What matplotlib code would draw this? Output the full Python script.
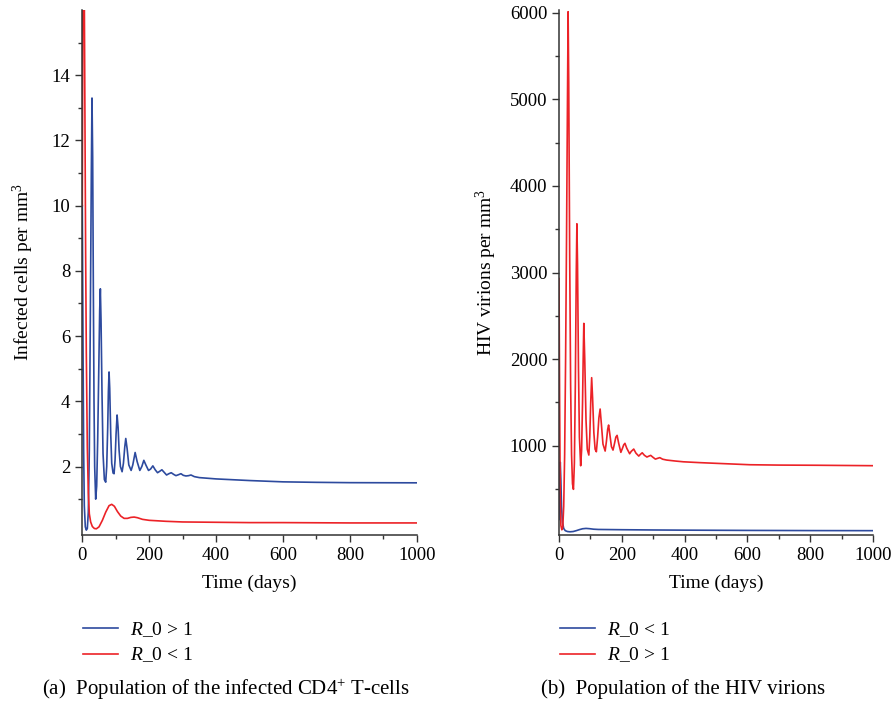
import matplotlib
matplotlib.use("Agg")
import matplotlib.pyplot as plt
from matplotlib.ticker import MultipleLocator, FixedLocator

plt.rcParams['font.family'] = ['Liberation Serif', 'DejaVu Serif']
plt.rcParams['mathtext.fontset'] = 'custom'
plt.rcParams['mathtext.rm'] = 'Liberation Serif'
plt.rcParams['mathtext.it'] = 'Liberation Serif:italic'

BLUE = '#2d4a9e'
RED = '#ec2227'

# (a) infected CD4+ T-cells, R_0 > 1 (blue)
t_cells_hi = [0, 2, 4, 6, 9, 12, 15, 18, 21, 24, 27, 29, 31, 33, 35, 37, 40, 43, 46, 49,
              52, 54, 56, 59, 62, 66, 70, 73, 76, 78, 80, 82, 85, 88, 92, 95, 98, 101, 104,
              107, 110, 114, 119, 123, 127, 130, 134, 139, 146, 151, 158, 164, 172, 178,
              184, 190, 198, 204, 211, 218, 225, 231, 238, 245, 252, 259, 266, 273, 280,
              288, 295, 302, 310, 318, 325, 335, 350, 400, 500, 600, 700, 800, 1000]
cells_hi = [10.0, 6.0, 2.5, 0.8, 0.15, 0.05, 0.1, 0.6, 2.5, 6.5, 11.0, 13.3, 11.5, 7.5, 4.0,
            2.0, 1.0, 1.4, 2.8, 4.8, 6.8, 7.45, 6.5, 4.2, 2.4, 1.6, 1.52, 2.0, 3.2, 4.3, 4.9,
            4.4, 3.0, 2.1, 1.8, 1.78, 2.2, 3.0, 3.58, 3.2, 2.5, 2.0, 1.84, 2.1, 2.6, 2.86,
            2.55, 2.05, 1.88, 2.05, 2.43, 2.15, 1.88, 2.0, 2.19, 2.05, 1.88, 1.92, 2.02, 1.9,
            1.81, 1.85, 1.9, 1.82, 1.74, 1.78, 1.81, 1.76, 1.72, 1.75, 1.78, 1.73, 1.71,
            1.72, 1.74, 1.69, 1.66, 1.62, 1.57, 1.53, 1.515, 1.505, 1.5]

# (a) infected CD4+ T-cells, R_0 < 1 (red)
t_cells_lo = [0, 2, 4, 6, 8, 10, 12, 15, 18, 21, 25, 30, 36, 42, 50, 60, 70, 80, 88, 96,
              105, 115, 125, 135, 145, 155, 165, 180, 200, 250, 300, 400, 500, 600, 800, 1000]
cells_lo = [10.0, 17.0, 19.0, 16.5, 12.5, 8.5, 5.5, 2.6, 1.2, 0.55, 0.3, 0.16, 0.1, 0.09,
            0.15, 0.35, 0.6, 0.8, 0.84, 0.78, 0.62, 0.48, 0.41, 0.41, 0.44, 0.45, 0.43,
            0.38, 0.35, 0.32, 0.3, 0.29, 0.28, 0.28, 0.27, 0.27]

# (b) HIV virions, R_0 > 1 (red)
t_vir_hi = [0, 2, 4, 6, 9, 12, 15, 18, 21, 24, 27, 29, 31, 34, 37, 40, 43, 46, 49, 52, 55,
            57, 59, 62, 65, 69, 72, 75, 77, 79, 82, 86, 90, 95, 98, 101, 104, 107, 111, 115,
            119, 123, 127, 131, 135, 140, 147, 151, 155, 158, 162, 167, 172, 177, 181, 185,
            190, 197, 202, 206, 210, 216, 225, 230, 238, 245, 254, 259, 265, 272, 280, 286,
            292, 300, 307, 314, 321, 330, 343, 370, 396, 450, 502, 608, 700, 820, 1000]
vir_hi = [2930, 1500, 400, 80, 30, 60, 300, 900, 2000, 3400, 5000, 6010, 5200, 3200, 1700,
          900, 560, 497, 800, 1700, 3000, 3562, 3100, 1900, 1100, 769, 950, 1500, 2000,
          2413, 2000, 1300, 960, 893, 1100, 1500, 1786, 1550, 1150, 960, 931, 1100, 1320,
          1424, 1250, 1020, 939, 1050, 1190, 1239, 1130, 990, 950, 1030, 1100, 1120, 1030,
          924, 970, 1010, 1028, 970, 908, 935, 962, 915, 881, 900, 919, 890, 870, 880, 889,
          865, 846, 855, 863, 845, 835, 824, 815, 805, 797, 781, 777, 775, 770]

# (b) HIV virions, R_0 < 1 (blue)
t_vir_lo = [0, 2, 4, 6, 8, 11, 15, 20, 27, 35, 45, 55, 65, 75, 86, 97, 110, 125, 150, 200,
            300, 400, 600, 800, 1000]
vir_lo = [150, 600, 810, 600, 300, 120, 45, 20, 10, 7, 10, 20, 32, 42, 46, 43, 37, 34, 33,
          31, 28, 26, 23, 21, 20]

W, H = 895, 710
fig = plt.figure(figsize=(W / 100, H / 100), dpi=100)
ax1 = fig.add_axes([82.3 / W, 1 - 535 / H, (416.7 - 82.3) / W, (535 - 10) / H])
ax2 = fig.add_axes([559 / W, 1 - 535 / H, (873 - 559) / W, (535 - 10) / H])


def style_axes(ax):
    for s in ['top', 'right']:
        ax.spines[s].set_visible(False)
    for s in ['left', 'bottom']:
        ax.spines[s].set_linewidth(1.1)
        ax.spines[s].set_color('#333333')
    ax.tick_params(which='major', direction='out', length=5, width=1, labelsize=13.5,
                   color='#333333')
    ax.tick_params(which='minor', direction='out', length=3, width=1, color='#333333')
    ax.set_xlim(0, 1000)
    ax.xaxis.set_major_locator(MultipleLocator(200))
    ax.xaxis.set_minor_locator(MultipleLocator(100))
    ax.set_xlabel('Time (days)', fontsize=14, labelpad=8)


style_axes(ax1)
l1, = ax1.plot(t_cells_hi, cells_hi, color=BLUE, lw=1.2)
l2, = ax1.plot(t_cells_lo, cells_lo, color=RED, lw=1.2)
ax1.set_ylim(-0.1, 16)
ax1.yaxis.set_major_locator(FixedLocator([2, 4, 6, 8, 10, 12, 14]))
ax1.yaxis.set_minor_locator(FixedLocator([1, 3, 5, 7, 9, 11, 13, 15]))
ax1.set_ylabel('Infected cells per mm$^3$', fontsize=14, labelpad=11)

style_axes(ax2)
l3, = ax2.plot(t_vir_lo, vir_lo, color=BLUE, lw=1.2)
l4, = ax2.plot(t_vir_hi, vir_hi, color=RED, lw=1.2)
ax2.set_ylim(-30, 6030)
ax2.yaxis.set_major_locator(FixedLocator([1000, 2000, 3000, 4000, 5000, 6000]))
ax2.yaxis.set_minor_locator(FixedLocator([500, 1500, 2500, 3500, 4500, 5500]))
ax2.set_ylabel('HIV virions per mm$^3$', fontsize=14, labelpad=8)

leg_kw = dict(loc='upper left', frameon=False, fontsize=14, handlelength=1.8,
              handletextpad=0.6, labelspacing=0.35, borderpad=0, borderaxespad=0)
fig.legend([l1, l2], [r'$\it{R}$_0 > 1', r'$\it{R}$_0 < 1'],
           bbox_to_anchor=(83 / W, 1 - 620 / H), **leg_kw)
fig.legend([l3, l4], [r'$\it{R}$_0 < 1', r'$\it{R}$_0 > 1'],
           bbox_to_anchor=(560 / W, 1 - 620 / H), **leg_kw)

fig.text(226 / W, 1 - 689 / H, '(a)  Population of the infected CD4$^{+}$ T-cells',
         ha='center', va='center', fontsize=15)
fig.text(683 / W, 1 - 689 / H, '(b)  Population of the HIV virions',
         ha='center', va='center', fontsize=15)

fig.savefig('out.png', dpi=100)
plt.close(fig)
